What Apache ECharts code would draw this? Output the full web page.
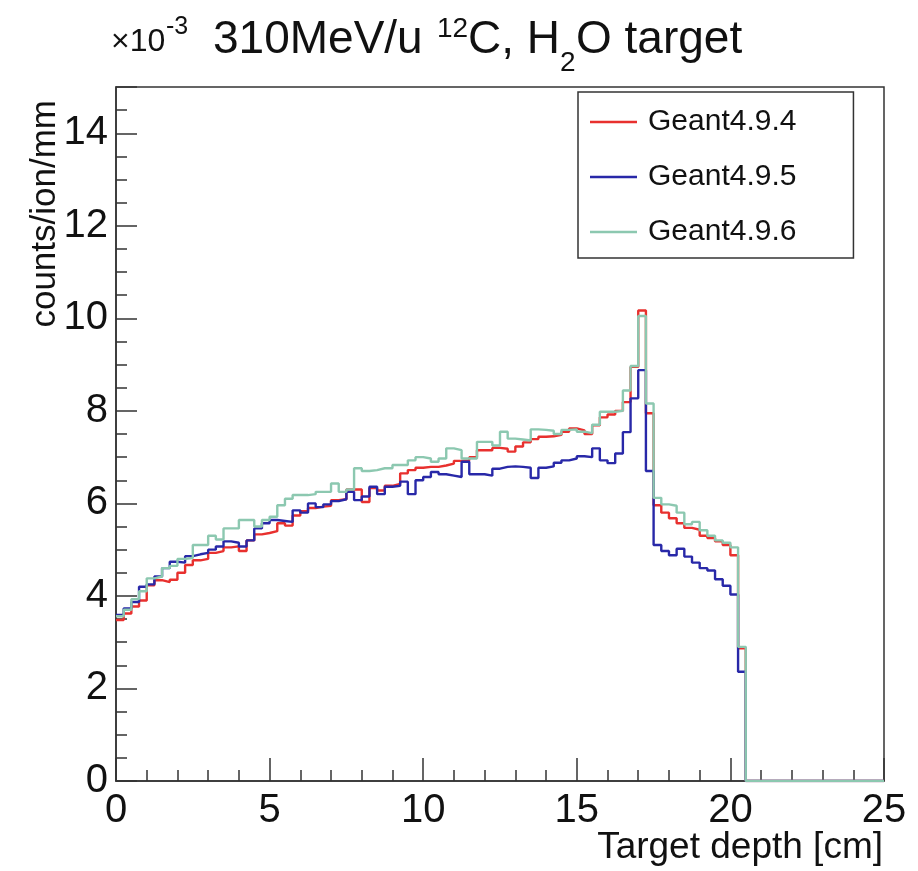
<!DOCTYPE html>
<html>
<head>
<meta charset="utf-8">
<script src="https://cdn.jsdelivr.net/npm/echarts@6/dist/echarts.min.js"></script>
<style>html,body{margin:0;padding:0;background:#fff;}#c{width:918px;height:871px;}</style>
</head>
<body>
<div id="c"></div>
<script>
// Bin layout (histogram, 0.25 cm bins from 0 to 25 cm)
const binWidth = 0.25;
const nBins = 100;
const xTicks = [0, 5, 10, 15, 20, 25];
const yTicks = [0, 2, 4, 6, 8, 10, 12, 14];
const seriesNames = ['Geant4.9.4', 'Geant4.9.5', 'Geant4.9.6'];

// counts/ion/mm in units of 1e-3, one value per bin (bins after 20.5 cm are 0)
const g494 = [
  3.48, 3.62, 3.77, 3.90, 4.23, 4.34, 4.30, 4.35, 4.50, 4.67,
  4.77, 4.80, 4.93, 4.97, 5.05, 5.07, 4.97, 5.20, 5.33, 5.36,
  5.40, 5.57, 5.52, 5.74, 5.83, 5.90, 5.93, 5.95, 6.07, 6.09,
  6.30, 6.30, 6.03, 6.33, 6.28, 6.38, 6.42, 6.65, 6.72, 6.77,
  6.79, 6.79, 6.82, 6.86, 6.92, 6.93, 7.00, 7.15, 7.15, 7.20,
  7.18, 7.12, 7.23, 7.32, 7.39, 7.44, 7.45, 7.48, 7.55, 7.62,
  7.58, 7.50, 7.69, 7.86, 7.92, 8.00, 8.19, 8.95, 10.17, 7.95,
  5.96, 5.80, 5.68, 5.57, 5.47, 5.43, 5.30, 5.25, 5.18, 5.10, 4.88, 2.87
];
const g495 = [
  3.59, 3.73, 3.87, 4.20, 4.25, 4.42, 4.60, 4.74, 4.72, 4.86,
  4.90, 4.93, 5.00, 5.07, 5.18, 5.15, 5.07, 5.20, 5.46, 5.57,
  5.64, 5.62, 5.60, 5.85, 5.80, 6.00, 5.92, 5.98, 6.05, 6.09,
  6.25, 6.07, 6.15, 6.36, 6.20, 6.36, 6.38, 6.47, 6.20, 6.50,
  6.57, 6.68, 6.63, 6.60, 6.57, 6.90, 6.63, 6.63, 6.60, 6.75,
  6.79, 6.80, 6.79, 6.77, 6.55, 6.77, 6.80, 6.88, 6.93, 6.97,
  7.02, 7.00, 7.19, 6.93, 6.87, 7.08, 7.54, 8.27, 8.88, 6.70,
  5.10, 4.97, 4.88, 5.02, 4.85, 4.72, 4.60, 4.55, 4.36, 4.22, 4.03, 2.36
];
const g496 = [
  3.56, 3.70, 3.93, 4.10, 4.38, 4.42, 4.60, 4.65, 4.80, 4.82,
  5.10, 5.10, 5.30, 5.22, 5.46, 5.46, 5.64, 5.64, 5.50, 5.64,
  5.71, 5.96, 6.10, 6.18, 6.18, 6.20, 6.25, 6.25, 6.43, 6.25,
  6.30, 6.76, 6.70, 6.72, 6.76, 6.76, 6.83, 6.83, 6.93, 7.00,
  6.97, 6.90, 6.97, 7.19, 7.15, 6.97, 6.97, 7.33, 7.33, 7.25,
  7.55, 7.40, 7.38, 7.36, 7.60, 7.59, 7.57, 7.50, 7.59, 7.60,
  7.55, 7.52, 7.70, 7.98, 7.98, 8.00, 8.44, 8.97, 10.05, 8.16,
  6.12, 5.98, 5.95, 5.80, 5.55, 5.60, 5.42, 5.30, 5.20, 5.15, 5.05, 2.90
];

function toSteps(vals) {
  const out = [];
  for (let i = 0; i < nBins; i++) out.push([i * binWidth, i < vals.length ? vals[i] : 0]);
  out.push([nBins * binWidth, 0]);
  return out;
}

const FONT = '"Liberation Sans", Arial, Helvetica, sans-serif';
const colors = ['#e8302e', '#2828a8', '#8cc8b0'];
const chart = echarts.init(document.getElementById('c'), null, {renderer: 'canvas'});

function mkSeries(name, vals, color) {
  return {
    name: name, type: 'line', step: 'end', data: toSteps(vals),
    symbol: 'none', showSymbol: false, animation: false,
    lineStyle: {color: color, width: 2.4}, itemStyle: {color: color}
  };
}

chart.setOption({
  animation: false,
  backgroundColor: '#fff',
  grid: {left: 116, right: 34, top: 87, bottom: 90, show: true, borderColor: '#333', borderWidth: 1.5, backgroundColor: 'transparent'},
  xAxis: {
    type: 'value', min: xTicks[0], max: xTicks[xTicks.length - 1], interval: 5,
    axisLine: {show: true, lineStyle: {color: '#333', width: 1.5}},
    axisTick: {show: true, inside: true, length: 23, lineStyle: {color: '#333', width: 1.5}},
    minorTick: {show: true, splitNumber: 5, length: 11, lineStyle: {color: '#333', width: 1.5}},
    splitLine: {show: false},
    axisLabel: {fontFamily: FONT, fontSize: 40, color: '#111', margin: 10}
  },
  yAxis: {
    type: 'value', min: 0, max: 15, interval: 2,
    axisLine: {show: true, lineStyle: {color: '#333', width: 1.5}},
    axisTick: {show: true, inside: true, length: 21, lineStyle: {color: '#333', width: 1.5}},
    minorTick: {show: true, splitNumber: 4, length: 11, lineStyle: {color: '#333', width: 1.5}},
    splitLine: {show: false},
    axisLabel: {fontFamily: FONT, fontSize: 40, color: '#111', margin: 8,
      formatter: function (v) { return yTicks.indexOf(v) >= 0 ? String(v) : ''; }}
  },
  legend: {
    data: seriesNames, orient: 'vertical', left: 578, top: 92,
    icon: 'rect', itemWidth: 47, itemHeight: 2.5,
    padding: [15, 57, 11, 12], itemGap: 25,
    borderColor: '#333', borderWidth: 1.5, backgroundColor: '#fff',
    textStyle: {fontFamily: FONT, fontSize: 30, color: '#111', padding: [0, 0, 0, 6], lineHeight: 30}
  },
  series: [
    mkSeries(seriesNames[0], g494, colors[0]),
    mkSeries(seriesNames[1], g495, colors[1]),
    mkSeries(seriesNames[2], g496, colors[2])
  ],
  graphic: [
    {type: 'text', x: 213, y: 40, style: {text: '310MeV/u', font: '46px ' + FONT, fill: '#111', verticalAlign: 'middle', align: 'left'}},
    {type: 'text', x: 437, y: 29, style: {text: '12', font: '28px ' + FONT, fill: '#111', verticalAlign: 'middle', align: 'left'}},
    {type: 'text', x: 468, y: 40, style: {text: 'C, H', font: '46px ' + FONT, fill: '#111', verticalAlign: 'middle', align: 'left'}},
    {type: 'text', x: 560, y: 63, style: {text: '2', font: '28px ' + FONT, fill: '#111', verticalAlign: 'middle', align: 'left'}},
    {type: 'text', x: 576, y: 40, style: {text: 'O target', font: '46px ' + FONT, fill: '#111', verticalAlign: 'middle', align: 'left'}},
    {type: 'text', x: 111, y: 42, style: {text: '\u00d710', font: '32px ' + FONT, fill: '#111', verticalAlign: 'middle', align: 'left'}},
    {type: 'text', x: 166, y: 27, style: {text: '-3', font: '25px ' + FONT, fill: '#111', verticalAlign: 'middle', align: 'left'}},
    {type: 'text', x: 45, y: 100, rotation: Math.PI / 2, style: {text: 'counts/ion/mm', font: '35px ' + FONT, fill: '#111', verticalAlign: 'middle', align: 'right'}},
    {type: 'text', x: 883, y: 848, style: {text: 'Target depth [cm]', font: '37px ' + FONT, fill: '#111', verticalAlign: 'middle', align: 'right'}}
  ]
});
</script>
</body>
</html>
